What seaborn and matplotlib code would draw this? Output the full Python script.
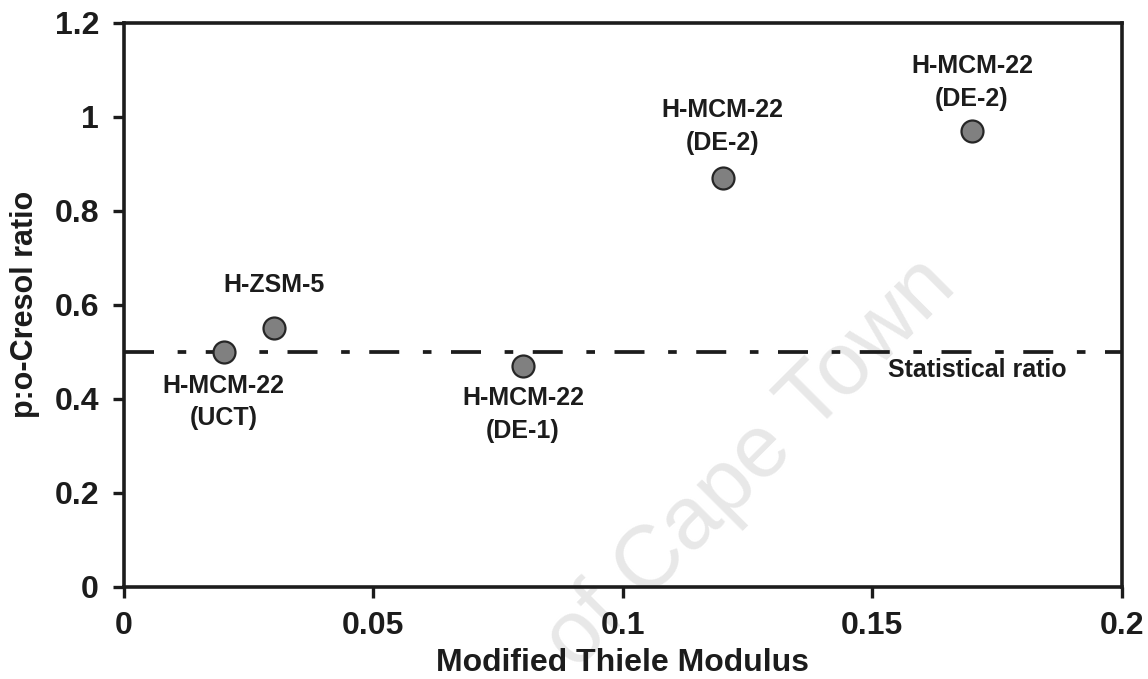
import pandas as pd
import seaborn as sns
import matplotlib.pyplot as plt

# catalyst points
thiele = [0.02, 0.03, 0.08, 0.12, 0.17]
ratio = [0.50, 0.55, 0.47, 0.87, 0.97]
names = ['H-MCM-22\n(UCT)', 'H-ZSM-5', 'H-MCM-22\n(DE-1)', 'H-MCM-22\n(DE-2)', 'H-MCM-22\n(DE-2)']
statistical_ratio = 0.5

x_ticks = [0, 0.05, 0.1, 0.15, 0.2]
x_labels = ['0', '0.05', '0.1', '0.15', '0.2']
y_ticks = [0, 0.2, 0.4, 0.6, 0.8, 1.0, 1.2]
y_labels = ['0', '0.2', '0.4', '0.6', '0.8', '1', '1.2']

df = pd.DataFrame({'thiele': thiele, 'ratio': ratio, 'name': names})

sns.set_style('ticks')
plt.rcParams['font.family'] = ['Liberation Sans', 'DejaVu Sans']
plt.rcParams['font.weight'] = 'bold'
ink = '#1c1c1c'

fig = plt.figure(figsize=(11.48, 6.79), dpi=100)
ax = fig.add_axes([0.108, 0.1355, 0.869, 0.831])

# faint watermark behind everything
ax.text(0.835, 0.575, 'of Cape Town', transform=fig.transFigure,
        rotation=45, rotation_mode='anchor', ha='right', va='baseline',
        fontsize=64, fontweight='normal', color='#e8e8e8', zorder=0, clip_on=False)

ax.axhline(statistical_ratio, color=ink, lw=2.7, linestyle=(0, (8, 6.3, 2.3, 5.2)), zorder=2)

sns.scatterplot(data=df, x='thiele', y='ratio', ax=ax, s=250, color='#808080',
                edgecolor='#262626', linewidth=1.6, zorder=3, legend=False)

# label offsets (points) for each point
offsets = [(0, -36), (0, 31), (0, -35), (0, 37), (0, 35)]
for (xv, yv, lab), off in zip(zip(thiele, ratio, names), offsets):
    ax.annotate(lab, (xv, yv), xytext=off, textcoords='offset points',
                ha='center', va='center', fontsize=18, fontweight='bold',
                color=ink, linespacing=1.45)

ax.text(0.171, 0.462, 'Statistical ratio', ha='center', va='center',
        fontsize=18, fontweight='bold', color=ink)

ax.set_xlim(0, 0.2)
ax.set_ylim(0, 1.2)
ax.set_xticks(x_ticks)
ax.set_xticklabels(x_labels)
ax.set_yticks(y_ticks)
ax.set_yticklabels(y_labels)
ax.tick_params(axis='both', direction='out', length=8, width=2.4, color=ink,
               labelsize=23, labelcolor=ink)
ax.tick_params(axis='x', pad=9)
ax.tick_params(axis='y', pad=10)
for lab in ax.get_xticklabels() + ax.get_yticklabels():
    lab.set_fontweight('bold')

for sp in ax.spines.values():
    sp.set_visible(True)
    sp.set_linewidth(2.6)
    sp.set_color(ink)

ax.set_xlabel('Modified Thiele Modulus', fontsize=23, fontweight='bold', color=ink, labelpad=5)
ax.set_ylabel('p:o-Cresol ratio', fontsize=22, fontweight='bold', color=ink, labelpad=10)

fig.savefig('out.png', dpi=100, facecolor='white')
